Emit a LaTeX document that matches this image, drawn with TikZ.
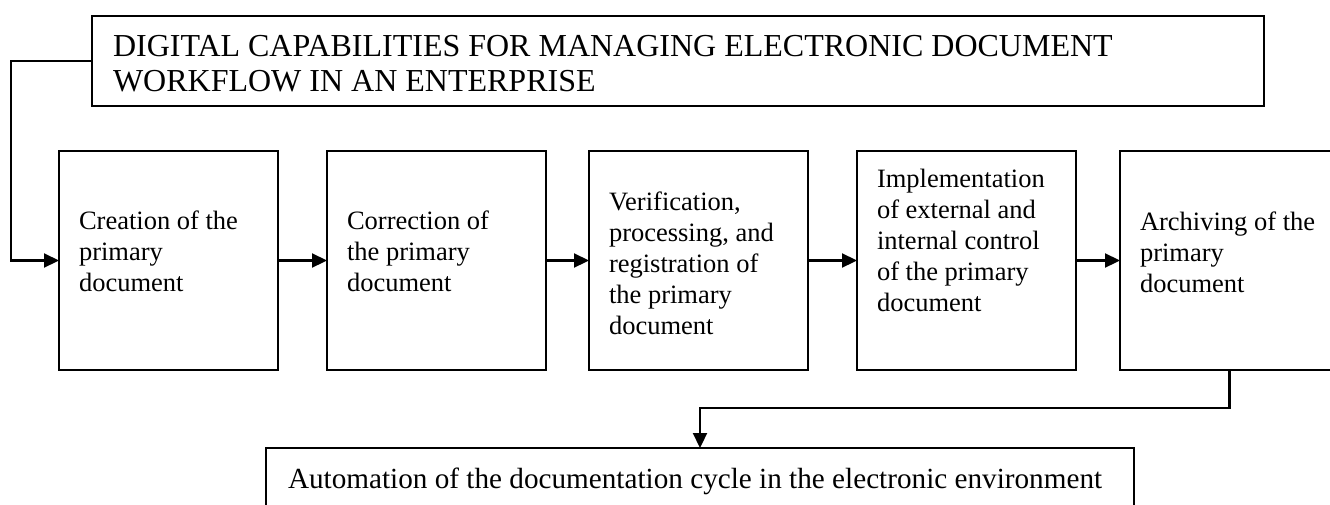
\documentclass[tikz,border=0pt]{standalone}
\usepackage{fontspec}
\setmainfont{Liberation Serif}
\usetikzlibrary{positioning,arrows.meta}

\begin{document}
\begin{tikzpicture}[
  x=1pt, y=-1pt,
  frame/.style={draw, line width=2.2pt, outer sep=0pt, align=flush left, inner ysep=0pt},
  stage/.style={frame, minimum width=219pt, minimum height=219pt, text width=179pt, inner xsep=20pt,
    font=\fontsize{26.5}{31}\selectfont, text height=19pt, text depth=82pt},
  arr/.style={-{Triangle[length=15pt,width=14pt]}, line width=2.2pt}
]
\useasboundingbox (0,0) rectangle (1330,504);
\clip (0,0) rectangle (1330,504);

\node[frame, anchor=north west, minimum width=1172pt, minimum height=90pt, text width=1130pt, inner xsep=21pt,
  font=\fontsize{32}{35}\selectfont, text height=21pt, text depth=31pt] (title) at (92,16)
  {DIGITAL CAPABILITIES FOR MANAGING ELECTRONIC DOCUMENT\\WORKFLOW IN AN ENTERPRISE};

\node[stage, anchor=north west] (s1) at (59,151) {Creation of the\\primary\\document};
\node[stage, right=49pt of s1] (s2) {Correction of\\the primary\\document};
\node[stage, right=43pt of s2, text depth=120pt] (s3) {Verification,\\processing, and\\registration of\\the primary\\document};
\node[stage, right=49pt of s3, text depth=166pt] (s4) {Implementation\\of external and\\internal control\\of the primary\\document};
\node[stage, right=44pt of s4, text depth=80pt] (s5) {Archiving of the\\primary\\document};

\node[frame, anchor=north west, minimum width=868pt, text width=824pt, inner xsep=22pt, inner ysep=20pt,
  font=\fontsize{29.2}{34}\selectfont, text height=20pt, text depth=8pt] (auto) at (266,448)
  {Automation of the documentation cycle in the electronic environment};

\draw[arr] (title.west) -- ++(-81,0) |- (s1.west);
\draw[arr] (s1) -- (s2); \draw[arr] (s2) -- (s3); \draw[arr] (s3) -- (s4); \draw[arr] (s4) -- (s5);
\draw[arr] (s5.south) -- ++(0,38) -| (auto.north);
\end{tikzpicture}
\end{document}
